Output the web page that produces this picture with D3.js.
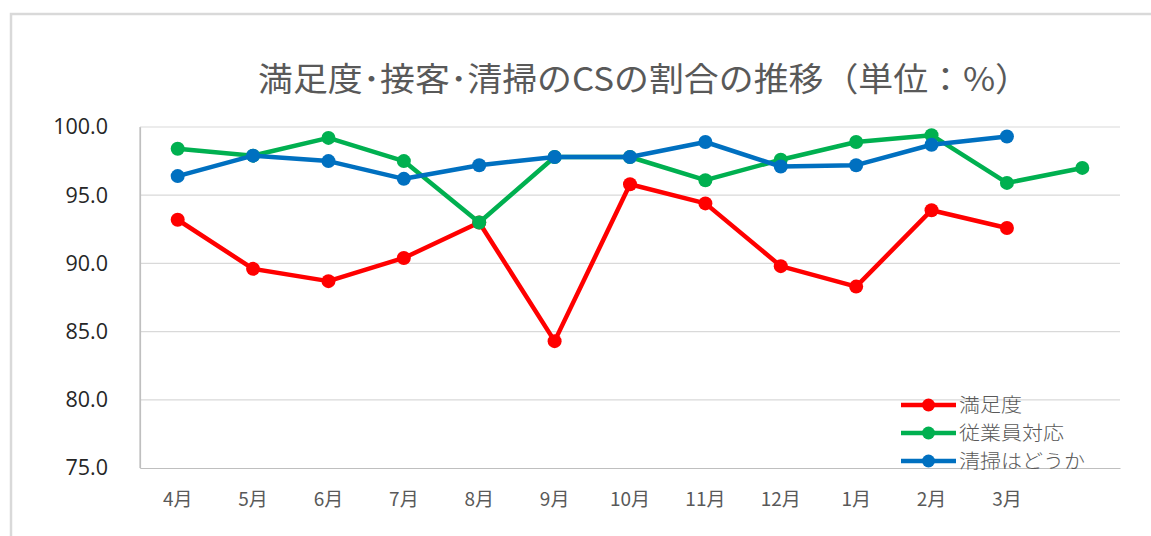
<!DOCTYPE html>
<html>
<head>
<meta charset="utf-8">
<script src="https://cdn.jsdelivr.net/npm/d3@7"></script>
<style>
  html, body { margin: 0; padding: 0; background: #fff; }
  svg { display: block; }
</style>
</head>
<body>
<div id="chart"></div>
<script>
// Categories (13th slot has no label but holds the last green point)
const months = ["4月", "5月", "6月", "7月", "8月", "9月", "10月", "11月", "12月", "1月", "2月", "3月", ""];
const yTicks = [75, 80, 85, 90, 95, 100];

// Series values
const satisfaction = [93.2, 89.6, 88.7, 90.4, 93.0, 84.3, 95.8, 94.4, 89.8, 88.3, 93.9, 92.6];
const staffService = [98.4, 97.9, 99.2, 97.5, 93.0, 97.8, 97.8, 96.1, 97.6, 98.9, 99.4, 95.9, 97.0];
const cleaning = [96.4, 97.9, 97.5, 96.2, 97.2, 97.8, 97.8, 98.9, 97.1, 97.2, 98.7, 99.3];

const seriesNames = ["満足度", "従業員対応", "清掃はどうか"];
const seriesColors = ["#ff0000", "#00b050", "#0070c0"];

const series = [satisfaction, staffService, cleaning].map((values, i) => ({
  name: seriesNames[i],
  color: seriesColors[i],
  values: values.map((v, j) => ({ month: months[j] === "" ? "_13" : months[j], value: v }))
}));

const width = 1151;
const height = 536;
const margin = { top: 127, right: 31, bottom: 68, left: 140 };

const svg = d3.select("#chart")
  .append("svg")
  .attr("width", width)
  .attr("height", height)
  .attr("viewBox", [0, 0, width, height]);

// Outer chart frame (only top and left edges visible)
svg.append("path")
  .attr("d", `M11,${height} V14 H${width}`)
  .attr("fill", "none")
  .attr("stroke", "#d9d9d9")
  .attr("stroke-width", 2.5);

const xDomain = months.map((m) => (m === "" ? "_13" : m));

const x = d3.scaleBand()
  .domain(xDomain)
  .range([margin.left, width - margin.right])
  .padding(0);

const y = d3.scaleLinear()
  .domain([75, 100])
  .range([height - margin.bottom, margin.top]);

const xc = (d) => x(d) + x.bandwidth() / 2;

// Gridlines
svg.append("g")
  .attr("class", "grid")
  .selectAll("line")
  .data(yTicks.filter((t) => t > 75))
  .join("line")
  .attr("x1", margin.left)
  .attr("x2", width - margin.right)
  .attr("y1", (d) => y(d))
  .attr("y2", (d) => y(d))
  .attr("stroke", "#d9d9d9")
  .attr("stroke-width", 1.2);

// Y axis
const yAxis = d3.axisLeft(y).tickValues(yTicks).tickSize(0).tickPadding(32).tickFormat(d3.format(".1f"));
svg.append("g")
  .attr("transform", `translate(${margin.left},0)`)
  .call(yAxis)
  .call((g) => g.select(".domain").attr("stroke", "#bfbfbf").attr("stroke-width", 1.2))
  .selectAll("text")
  .attr("font-family", "'Open Sans', 'Noto Sans', sans-serif")
  .attr("font-size", 21.5)
  .attr("fill", "#262626");

// X axis
const xAxis = d3.axisBottom(x).tickSize(0).tickPadding(25).tickFormat((d) => (d === "_13" ? "" : d));
svg.append("g")
  .attr("transform", `translate(0,${height - margin.bottom})`)
  .call(xAxis)
  .call((g) => g.select(".domain").attr("stroke", "#bfbfbf").attr("stroke-width", 1.2))
  .selectAll("text")
  .attr("font-family", "'Noto Sans CJK JP', sans-serif")
  .attr("font-size", 19)
  .attr("fill", "#595959");

// Left axis line spans the full plot height
svg.append("line")
  .attr("x1", margin.left).attr("x2", margin.left)
  .attr("y1", y(100)).attr("y2", y(75))
  .attr("stroke", "#bfbfbf").attr("stroke-width", 1.2);

// Lines and markers
const line = d3.line()
  .x((d) => xc(d.month))
  .y((d) => y(d.value));

const seriesG = svg.append("g")
  .selectAll("g")
  .data(series)
  .join("g");

seriesG.append("path")
  .attr("d", (d) => line(d.values))
  .attr("fill", "none")
  .attr("stroke", (d) => d.color)
  .attr("stroke-width", 4.5)
  .attr("stroke-linejoin", "round");

seriesG.selectAll("circle")
  .data((d) => d.values.map((v) => ({ ...v, color: d.color })))
  .join("circle")
  .attr("cx", (d) => xc(d.month))
  .attr("cy", (d) => y(d.value))
  .attr("r", 7)
  .attr("fill", (d) => d.color);

// Title
svg.append("text")
  .attr("x", 644)
  .attr("y", 91)
  .attr("text-anchor", "middle")
  .attr("font-family", "'Noto Sans CJK JP', sans-serif")
  .attr("font-size", 33)
  .attr("fill", "#595959")
  .attr("textLength", 772)
  .attr("lengthAdjust", "spacingAndGlyphs")
  .text("満足度･接客･清掃のCSの割合の推移（単位：%）");

// Legend
const legend = svg.append("g")
  .attr("transform", "translate(901,405)")
  .selectAll("g")
  .data(series)
  .join("g")
  .attr("transform", (d, i) => `translate(0,${i * 28})`);

legend.append("line")
  .attr("x1", 0).attr("x2", 55)
  .attr("stroke", (d) => d.color)
  .attr("stroke-width", 4.5);

legend.append("circle")
  .attr("cx", 27.5)
  .attr("r", 6.5)
  .attr("fill", (d) => d.color);

legend.append("text")
  .attr("x", 58)
  .attr("y", 7)
  .attr("font-family", "'Noto Sans CJK JP', sans-serif")
  .attr("font-weight", 300)
  .attr("font-size", 19.3)
  .attr("textLength", (d) => d.name.length * 21)
  .attr("lengthAdjust", "spacingAndGlyphs")
  .attr("fill", "#595959")
  .text((d) => d.name);
</script>
</body>
</html>
